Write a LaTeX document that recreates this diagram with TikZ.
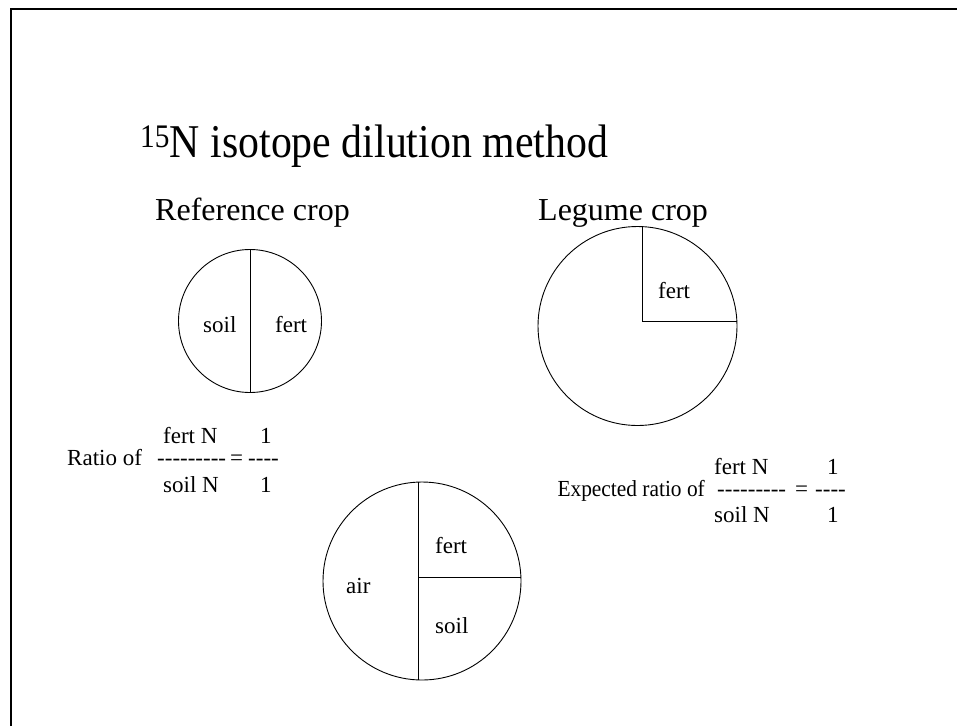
\documentclass[tikz,border=0pt]{standalone}
\usepackage{fontspec}
\setmainfont{Liberation Serif}[Ligatures=TeXOff]
\newfontfamily\titlefont{Liberation Serif}[FakeStretch=0.89]
\newfontfamily\narrowfont{Liberation Serif}[FakeStretch=0.93, Ligatures=TeXOff]
\usetikzlibrary{positioning}

\begin{document}
\begin{tikzpicture}[
    x=1pt, y=-1pt,
    txt/.style={inner sep=0pt, anchor=base west, font=\fontsize{23}{27}\selectfont},
    head/.style={inner sep=0pt, anchor=base west, font=\fontsize{32}{38}\selectfont},
    pie/.style={draw, circle, inner sep=0pt, outer sep=0pt, line width=0.9pt},
    cut/.style={line width=0.9pt}
  ]
    \useasboundingbox (0,0) rectangle (957,726);
    % slide frame
    \draw[line width=2pt] (11,726) -- (11,9) -- (957,9);

    \node[inner sep=0pt, anchor=base west, font=\titlefont\fontsize{47}{56}\selectfont] (title) at (140,157)
      {\textsuperscript{15}N isotope dilution method};

    % reference crop
    \node[head] (refhead) at (155,220) {Reference crop};
    \node[pie, minimum size=143pt] (refpie) at (250,321) {};
    \draw[cut] (refpie.north) -- (refpie.south);
    \node[txt] (refsoil) at (203,332) {soil};
    \node[txt] (reffert) at (275,332) {fert};

    % legume crop
    \node[head] (leghead) at (538,220) {Legume crop};
    \node[pie, minimum size=199pt] (legpie) at (637.5,326) {};
    \coordinate (legc) at (642,321);
    \draw[cut] (legpie.north -| legc) -- (legc) -- (legc -| legpie.east);
    \node[txt] (legfert) at (658,298) {fert};

    % legume split by source
    \node[pie, minimum size=198pt] (botpie) at (422,581) {};
    \coordinate (botc) at (418,577);
    \draw[cut] (botpie.north -| botc) -- (botpie.south -| botc);
    \draw[cut] (botc) -- (botc -| botpie.east);
    \node[txt] (botfert) at (435,553) {fert};
    \node[txt] (botair) at (346,593) {air};
    \node[txt] (botsoil) at (435,633) {soil};

    % ratio, reference crop
    \node[txt] (ratio) at (67,465) {Ratio of};
    \node[txt] (rnum) at (163,443) {fert N};
    \node[txt] (rbar) at (157,465) {---------};
    \node[txt] (req) at (230,465) {=};
    \node[txt] (rbar2) at (248,465) {----};
    \node[txt] (rone) at (260,443) {1};
    \node[txt] (rden) at (163,492) {soil N};
    \node[txt] (rtwo) at (260,492) {1};

    % expected ratio, legume crop
    \node[txt, anchor=base east, font=\narrowfont\fontsize{23}{27}\selectfont] (expect) at (705,496) {Expected ratio of};
    \node[txt] (enum) at (714,474) {fert N};
    \node[txt] (ebar) at (717,496) {---------};
    \node[txt] (eeq) at (795,496) {=};
    \node[txt] (ebar2) at (815,496) {----};
    \node[txt] (eone) at (827,474) {1};
    \node[txt] (eden) at (714,522) {soil N};
    \node[txt] (etwo) at (827,522) {1};
  \end{tikzpicture}
\end{document}
